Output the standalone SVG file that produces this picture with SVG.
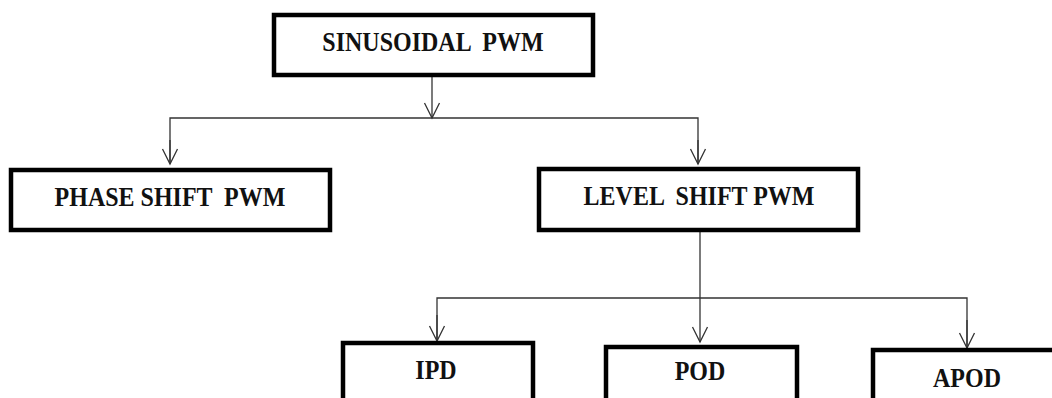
<svg xmlns="http://www.w3.org/2000/svg" width="1052" height="398" viewBox="0 0 1052 398">
<style>
.box{fill:#fff;stroke:#000;stroke-width:4.5}
.lbl{font-family:"Liberation Serif","Times New Roman",serif;font-weight:bold;font-size:24px;fill:#111;text-anchor:middle;white-space:pre}
.con{fill:none;stroke:#333;stroke-width:1.3}
</style>
<defs>
<marker id="arr" markerUnits="userSpaceOnUse" markerWidth="18" markerHeight="18" viewBox="-1 -1 18 18" refX="15" refY="7.5" orient="auto" overflow="visible">
<path d="M0,0 L15,7.5 L0,15" fill="none" stroke="#333" stroke-width="1.3"/>
</marker>
</defs>
<rect width="1052" height="398" fill="#fff"/>
<g id="connectors">
<line class="con" x1="432" y1="75" x2="432" y2="118" marker-end="url(#arr)"/>
<polyline class="con" points="170,163 170,118 698,118 698,163"/>
<line class="con" x1="170" y1="140" x2="170" y2="164" marker-end="url(#arr)"/>
<line class="con" x1="698" y1="140" x2="698" y2="164" marker-end="url(#arr)"/>
<line class="con" x1="700" y1="230" x2="700" y2="342" marker-end="url(#arr)"/>
<polyline class="con" points="437,340 437,298 967,298 967,348"/>
<line class="con" x1="437" y1="315" x2="437" y2="341" marker-end="url(#arr)"/>
<line class="con" x1="967" y1="320" x2="967" y2="348" marker-end="url(#arr)"/>
</g>
<g id="sinusoidal">
<rect class="box" x="274" y="15" width="319" height="60"/>
<text class="lbl" transform="translate(433,51) scale(1,1.12)">SINUSOIDAL  PWM</text>
</g>
<g id="phase">
<rect class="box" x="11" y="170" width="319" height="60"/>
<text class="lbl" transform="translate(170,206) scale(1,1.12)">PHASE SHIFT  PWM</text>
</g>
<g id="level">
<rect class="box" x="539" y="169" width="319" height="61"/>
<text class="lbl" transform="translate(699,205) scale(1,1.12)">LEVEL  SHIFT PWM</text>
</g>
<g id="ipd">
<rect class="box" x="343" y="343" width="190" height="80"/>
<text class="lbl" transform="translate(436,379) scale(1,1.12)">IPD</text>
</g>
<g id="pod">
<rect class="box" x="606" y="347" width="191" height="80"/>
<text class="lbl" transform="translate(700,380) scale(1,1.12)">POD</text>
</g>
<g id="apod">
<rect class="box" x="873" y="350" width="200" height="80"/>
<text class="lbl" transform="translate(967,387) scale(1,1.12)">APOD</text>
</g>
</svg>
